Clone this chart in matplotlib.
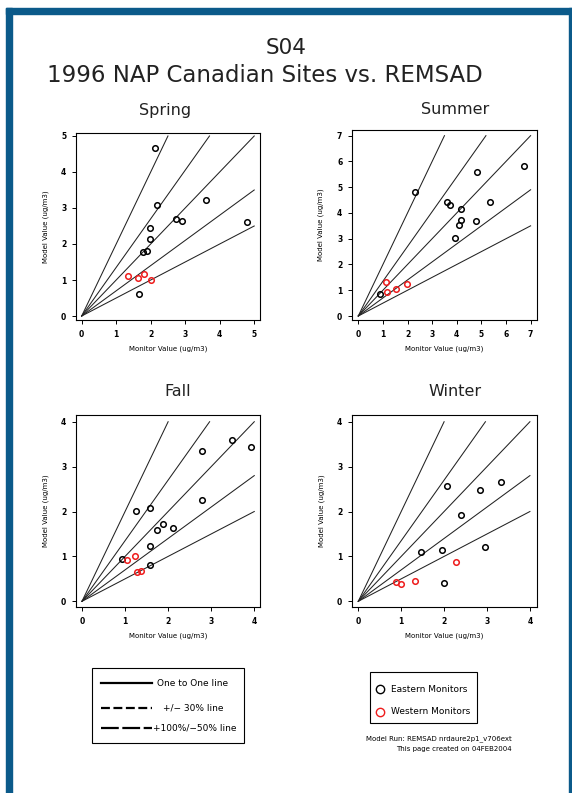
import matplotlib
matplotlib.use("Agg")
import matplotlib.pyplot as plt
from matplotlib.lines import Line2D
from matplotlib.patches import Rectangle

W, H = 572, 793
FRAME = "#0b5a8a"

# ---------------------------------------------------------------- data
spring_east_x = [2.12, 2.17, 3.59, 2.73, 2.91, 4.80, 1.99, 1.99, 1.77, 1.89, 1.67]
spring_east_y = [4.68, 3.08, 3.22, 2.69, 2.64, 2.60, 2.45, 2.14, 1.77, 1.81, 0.62]
spring_west_x = [1.35, 1.64, 1.82, 2.00]
spring_west_y = [1.12, 1.05, 1.18, 1.01]

summer_east_x = [2.30, 3.59, 3.71, 4.81, 4.18, 5.35, 6.74, 4.16, 4.08, 4.77, 3.94, 0.88]
summer_east_y = [4.80, 4.41, 4.32, 5.58, 4.14, 4.42, 5.83, 3.73, 3.53, 3.67, 3.01, 0.84]
summer_west_x = [1.11, 1.15, 1.52, 1.99]
summer_west_y = [1.31, 0.93, 1.05, 1.23]

fall_east_x = [1.25, 1.58, 2.79, 3.49, 3.93, 2.79, 1.74, 1.89, 2.12, 1.58, 0.93, 1.57]
fall_east_y = [2.01, 2.07, 3.35, 3.59, 3.43, 2.25, 1.58, 1.73, 1.64, 1.23, 0.95, 0.80]
fall_west_x = [1.04, 1.22, 1.27, 1.37]
fall_west_y = [0.91, 1.00, 0.66, 0.67]

winter_east_x = [2.07, 2.84, 3.33, 2.39, 1.47, 1.96, 2.96, 2.00]
winter_east_y = [2.56, 2.48, 2.65, 1.93, 1.09, 1.15, 1.20, 0.40]
winter_west_x = [0.89, 0.99, 1.32, 2.28]
winter_west_y = [0.42, 0.38, 0.45, 0.88]

axis_max = {"Spring": 5, "Summer": 7, "Fall": 4, "Winter": 4}


def fig_box(left, top, right, bottom):
    """pixel box -> figure fraction [l, b, w, h]"""
    return [left / W, 1 - bottom / H, (right - left) / W, (bottom - top) / H]


def fx(x):
    return x / W


def fy(y):
    return 1 - y / H


fig = plt.figure(figsize=(W / 100, H / 100), dpi=100)
plt.rcParams["font.family"] = "DejaVu Sans"

# blue page frame
fig.patches.append(Rectangle((fx(6), fy(793)), fx(12) - fx(6), fy(8) - fy(793),
                             transform=fig.transFigure, color=FRAME, zorder=0))
fig.patches.append(Rectangle((fx(6), fy(14)), fx(572) - fx(6), fy(8) - fy(14),
                             transform=fig.transFigure, color=FRAME, zorder=0))
fig.patches.append(Rectangle((fx(569), fy(793)), fx(572) - fx(569), fy(8) - fy(793),
                             transform=fig.transFigure, color=FRAME, zorder=0))

fig.text(fx(286), fy(48), "S04", ha="center", va="center", fontsize=15.5,
         color="#222222")
fig.text(fx(265), fy(76), "1996 NAP Canadian Sites vs. REMSAD", ha="center",
         va="center", fontsize=16.5, color="#222222")

panels = [
    ("Spring", (76, 133, 260, 320), (-0.165, 5.168), (-0.111, 5.083), (165, 110),
     spring_east_x, spring_east_y, spring_west_x, spring_west_y),
    ("Summer", (352, 130, 537, 320), (-0.256, 7.26), (-0.155, 7.22), (455, 110),
     summer_east_x, summer_east_y, summer_west_x, summer_west_y),
    ("Fall", (76, 415, 260, 607), (-0.139, 4.133), (-0.127, 4.15), (178, 392),
     fall_east_x, fall_east_y, fall_west_x, fall_west_y),
    ("Winter", (352, 415, 537, 607), (-0.147, 4.165), (-0.127, 4.15), (455, 392),
     winter_east_x, winter_east_y, winter_west_x, winter_west_y),
]

for name, box, xl, yl, tpos, ex, ey, wx, wy in panels:
    ax = fig.add_axes(fig_box(*box))
    m = axis_max[name]
    lw = 0.75
    ref = "#222222"
    # +100% / -50% and +/-30% reference lines, with the one-to-one line
    ax.plot([0, m / 2], [0, m], color=ref, lw=lw)
    ax.plot([0, m / 1.35], [0, m], color=ref, lw=lw)
    ax.plot([0, m], [0, m], color=ref, lw=lw)
    ax.plot([0, m], [0, 0.7 * m], color=ref, lw=lw)
    ax.plot([0, m], [0, 0.5 * m], color=ref, lw=lw)
    ax.plot(ex, ey, linestyle="none", marker="o", ms=4.0, mfc="none",
            mec="black", mew=1.1)
    ax.plot(wx, wy, linestyle="none", marker="o", ms=4.0, mfc="none",
            mec="#ee1c1c", mew=1.1)
    ax.set_xlim(*xl)
    ax.set_ylim(*yl)
    ax.set_xticks(range(0, m + 1))
    ax.set_yticks(range(0, m + 1))
    ax.tick_params(labelsize=5.5, length=3, width=0.7, pad=4)
    for lab in ax.get_xticklabels() + ax.get_yticklabels():
        lab.set_fontweight("bold")
    for sp in ax.spines.values():
        sp.set_linewidth(0.8)
    ax.set_xlabel("Monitor Value (ug/m3)", fontsize=5, labelpad=5)
    ax.set_ylabel("Model Value (ug/m3)", fontsize=5, labelpad=9)
    fig.text(fx(tpos[0]), fy(tpos[1]), name, ha="center", va="center",
             fontsize=11.5, color="#222222")

# ---------------------------------------------------------------- line legend
fig.patches.append(Rectangle((fx(92), fy(743)), fx(244) - fx(92), fy(668) - fy(743),
                             transform=fig.transFigure, fill=False, lw=0.8,
                             ec="black"))
legend_rows = [
    (683, None, "One to One line", 157),
    (708, (4, 1.6), "+/\u2212 30% line", 163),
    (728, (8, 1.6), "+100%/\u221250% line", 153),
]
for y, dash, label, tx in legend_rows:
    ln = Line2D([fx(101), fx(152)], [fy(y), fy(y)], transform=fig.transFigure,
                color="black", lw=1.6)
    if dash:
        ln.set_dashes(dash)
    fig.lines.append(ln)
    fig.text(fx(tx), fy(y), label, ha="left", va="center", fontsize=6.5)

# ---------------------------------------------------------------- marker legend
fig.patches.append(Rectangle((fx(370), fy(723)), fx(477) - fx(370), fy(672) - fy(723),
                             transform=fig.transFigure, fill=False, lw=0.8,
                             ec="black"))
for y, col, label in [(689, "black", "Eastern Monitors"),
                      (712, "#ee1c1c", "Western Monitors")]:
    fig.lines.append(Line2D([fx(380)], [fy(y)], transform=fig.transFigure,
                            marker="o", ms=6, mfc="none", mec=col, mew=1.0))
    fig.text(fx(391), fy(y), label, ha="left", va="center", fontsize=6.5)

fig.text(fx(512), fy(739), "Model Run: REMSAD nrdaure2p1_v706ext", ha="right",
         va="center", fontsize=5)
fig.text(fx(512), fy(749), "This page created on 04FEB2004", ha="right",
         va="center", fontsize=5)

fig.savefig("out.png", dpi=100)
